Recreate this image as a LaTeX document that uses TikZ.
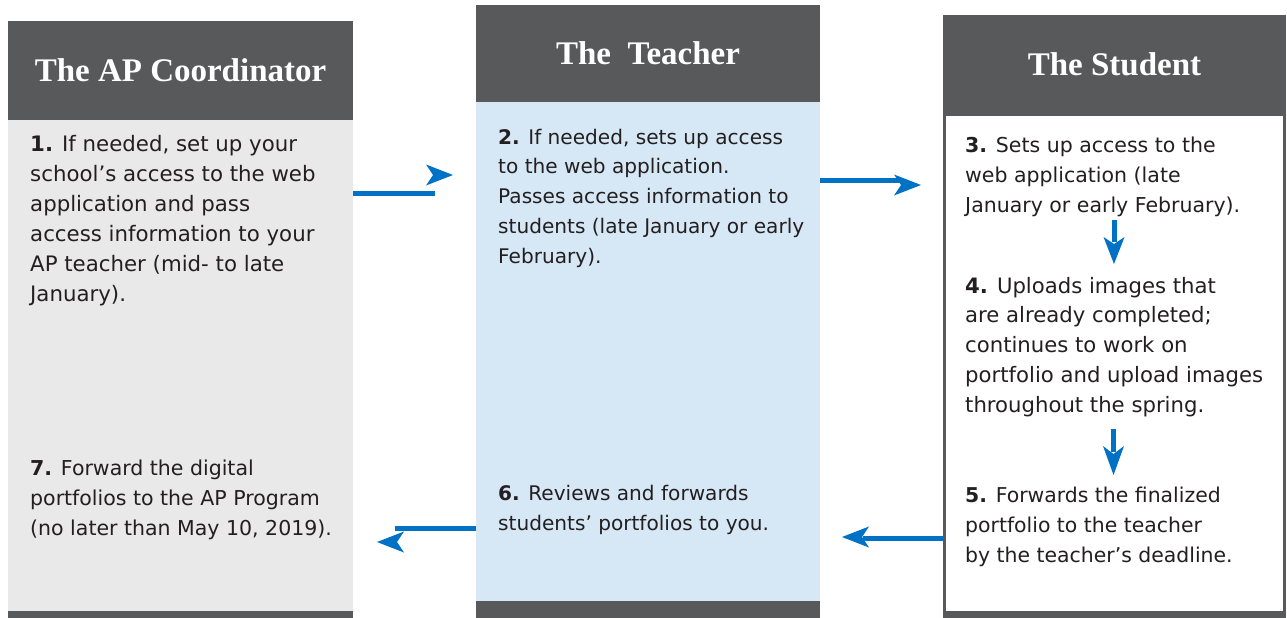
\documentclass[tikz,border=0pt]{standalone}
\usepackage{fontspec}
\setmainfont{DejaVu Sans}
\newfontfamily\headfont{Liberation Serif}
\definecolor{hdr}{HTML}{58595B}
\definecolor{lgray}{HTML}{E9E9E9}
\definecolor{lblue}{HTML}{D6E7F5}
\definecolor{abl}{HTML}{0072C6}
\definecolor{txt}{HTML}{231F20}
\begin{document}
\begin{tikzpicture}[x=1pt,y=-1pt,
  box/.style={inner sep=0pt, outer sep=0pt, draw=none},
  hdrbox/.style={box, fill=hdr, text=white, minimum width=345pt,
    font=\headfont\bfseries\fontsize{33}{36}\selectfont},
  bar/.style={box, fill=hdr, minimum width=345pt},
  bodytext/.style={anchor=base west, inner sep=0pt, align=left, text=txt},
  aline/.style={draw=abl, line width=5pt},
  ahead/.style={fill=abl, draw=none}]
\useasboundingbox (0,0) rectangle (1287,618);
\fill[white] (0,0) rectangle (1287,618);

% column 1
\node[box, fill=lgray, minimum width=345pt, minimum height=491pt] (body1) at (180.5,365.5) {};
\node[bar, minimum height=7pt] (bar1) at (180.5,614.5) {};
\node[hdrbox, minimum height=99pt] (head1) at (180.5,70.5) {The AP Coordinator};

% column 2
\node[box, fill=lblue, minimum width=344pt, minimum height=499pt] (body2) at (648,351.5) {};
\node[bar, minimum width=344pt, minimum height=17pt] (bar2) at (648,609.5) {};
\node[hdrbox, minimum width=344pt, minimum height=97pt] (head2) at (648,53.5) {The\ \ Teacher};

% column 3
\node[box, fill=white, draw=hdr, line width=3pt, minimum width=340pt, minimum height=498pt] (body3) at (1114.5,363) {};
\node[bar, minimum width=343pt, minimum height=6pt] (bar3) at (1114.5,615) {};
\node[hdrbox, minimum width=343pt, minimum height=99pt] (head3) at (1114.5,64.5) {The Student};

% texts (anchored at the baseline of their last line)
\node[bodytext, font=\fontsize{21.3}{30}\selectfont] (t1) at (30,301) {\textbf{1.} If needed, set up your\\school’s access to the web\\application and pass\\access information to your\\AP teacher (mid- to late\\January).};
\node[bodytext, font=\fontsize{20.5}{30}\selectfont] (t7) at (30,535) {\textbf{7.} Forward the digital\\portfolios to the AP Program\\(no later than May 10, 2019).};
\node[bodytext, font=\fontsize{20.1}{29.8}\selectfont] (t2) at (498,263.2) {\textbf{2.} If needed, sets up access\\to the web application.\\Passes access information to\\students (late January or early\\February).};
\node[bodytext, font=\fontsize{20.1}{30}\selectfont] (t6) at (498,530) {\textbf{6.} Reviews and forwards\\students’ portfolios to you.};
\node[bodytext, font=\fontsize{20.5}{30}\selectfont] (t3) at (965,212) {\textbf{3.} Sets up access to the\\web application (late\\January or early February).};
\node[bodytext, font=\fontsize{21.2}{29.8}\selectfont] (t4) at (965,412.2) {\textbf{4.} Uploads images that\\are already completed;\\continues to work on\\portfolio and upload images\\throughout the spring.};
\node[bodytext, font=\fontsize{20.4}{30}\selectfont] (t5) at (965,562) {\textbf{5.} Forwards the finalized\\portfolio to the teacher\\by the teacher’s deadline.};

% connectors
\coordinate (a1s) at (body1.east |- 0,193);
\coordinate (a1e) at (435,193);
\draw[aline] (a1s) -- (a1e);
\fill[ahead] (453,175) -- (426,164.5) -- (433,175) -- (426,185.5) -- cycle;

\coordinate (a2s) at (body2.east |- 0,180);
\coordinate (a2e) at (903,180);
\draw[aline] (a2s) -- (a2e);
\fill[ahead] (921,185) -- (894,174.5) -- (901,185) -- (894,195.5) -- cycle;

\coordinate (a3s) at (body2.west |- 0,528);
\coordinate (a3e) at (395,528);
\draw[aline] (a3s) -- (a3e);
\fill[ahead] (377,542) -- (404,531.5) -- (397,542) -- (404,552.5) -- cycle;

\coordinate (a4s) at (943,538);
\coordinate (a4e) at (863,538);
\draw[aline] (a4s) -- (a4e);
\fill[ahead] (842,537) -- (869,526.5) -- (862,537) -- (869,547.5) -- cycle;

\coordinate (d1s) at (1114,220);
\coordinate (d1e) at (1114,242);
\draw[aline] (d1s) -- (d1e);
\fill[ahead] (1114,264) -- (1103.5,237) -- (1114,244) -- (1124.5,237) -- cycle;

\coordinate (d2s) at (1113.5,429);
\coordinate (d2e) at (1113.5,452);
\draw[aline] (d2s) -- (d2e);
\fill[ahead] (1113.5,475) -- (1103,446) -- (1113.5,454) -- (1124,446) -- cycle;
\end{tikzpicture}
\end{document}
